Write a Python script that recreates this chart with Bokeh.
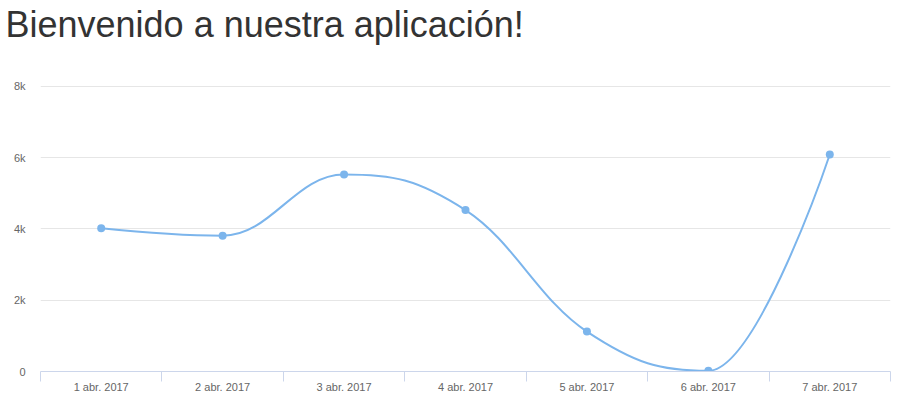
from bokeh.plotting import figure
from bokeh.models import ColumnDataSource, Range1d, FixedTicker, Title
from bokeh.embed import file_html
from bokeh.resources import INLINE

# ---- data ----
categories = ["1 abr. 2017", "2 abr. 2017", "3 abr. 2017", "4 abr. 2017",
              "5 abr. 2017", "6 abr. 2017", "7 abr. 2017"]
values = [4020, 3810, 5530, 4530, 1120, 20, 6090]
y_ticks = [0, 2000, 4000, 6000, 8000]
y_tick_labels = ["0", "2k", "4k", "6k", "8k"]
title_text = "Bienvenido a nuestra aplicación!"

LINE = "#7cb5ec"
FONT = "Liberation Sans"

xs = [i + 0.5 for i in range(len(categories))]


def spline_controls(px_list, py_list, smoothing=1.5):
    n = len(px_list)
    left = [(px_list[i], py_list[i]) for i in range(n)]
    right = [(px_list[i], py_list[i]) for i in range(n)]
    denom = smoothing + 1
    for i in range(1, n - 1):
        px, py = px_list[i], py_list[i]
        lx, ly = px_list[i - 1], py_list[i - 1]
        nx, ny = px_list[i + 1], py_list[i + 1]
        lcx = (smoothing * px + lx) / denom
        lcy = (smoothing * py + ly) / denom
        rcx = (smoothing * px + nx) / denom
        rcy = (smoothing * py + ny) / denom
        if rcx != lcx:
            corr = (rcy - lcy) * (rcx - px) / (rcx - lcx) + py - rcy
            lcy += corr
            rcy += corr
        if lcy > ly and lcy > py:
            lcy = max(ly, py)
            rcy = 2 * py - lcy
        elif lcy < ly and lcy < py:
            lcy = min(ly, py)
            rcy = 2 * py - lcy
        if rcy > ny and rcy > py:
            rcy = max(ny, py)
            lcy = 2 * py - rcy
        elif rcy < ny and rcy < py:
            rcy = min(ny, py)
            lcy = 2 * py - rcy
        left[i] = (lcx, lcy)
        right[i] = (rcx, rcy)
    return left, right


left, right = spline_controls(xs, values)
n = len(xs)
seg = dict(
    x0=xs[:-1], y0=values[:-1], x1=xs[1:], y1=values[1:],
    cx0=[right[i][0] for i in range(n - 1)],
    cy0=[right[i][1] for i in range(n - 1)],
    cx1=[left[i + 1][0] for i in range(n - 1)],
    cy1=[left[i + 1][1] for i in range(n - 1)],
)

p = figure(width=900, height=400, output_backend="svg", toolbar_location=None,
           x_range=Range1d(0, len(categories)), y_range=Range1d(0, 8028),
           min_border_left=40, min_border_right=10, min_border_bottom=29,
           min_border_top=85)
p.title.text = ""
p.outline_line_color = None
p.background_fill_color = "white"
p.border_fill_color = "white"

# spacer between frame and title, then the title itself
p.add_layout(Title(text=" ", text_font=FONT, text_font_size="10px",
                   standoff=22), "above")
p.add_layout(Title(text=title_text, text_font=FONT, text_font_size="36px",
                   text_font_style="normal", text_color="#333333",
                   align="left", vertical_align="top", offset=-35,
                   standoff=7), "above")

# spline line and markers
p.bezier(x0="x0", y0="y0", x1="x1", y1="y1", cx0="cx0", cy0="cy0",
         cx1="cx1", cy1="cy1", source=ColumnDataSource(seg),
         line_color=LINE, line_width=2)
p.scatter(xs, values, size=8, fill_color=LINE, line_color=None)

# x axis
xax = p.xaxis[0]
xax.ticker = FixedTicker(ticks=xs, minor_ticks=list(range(len(categories) + 1)))
xax.major_label_overrides = {x: c for x, c in zip(xs, categories)}
xax.major_tick_line_color = None
xax.major_tick_out = 0
xax.major_tick_in = 0
xax.minor_tick_line_color = "#ccd6eb"
xax.minor_tick_out = 10
xax.minor_tick_in = 0
xax.axis_line_color = "#ccd6eb"
xax.major_label_text_font = FONT
xax.major_label_text_font_size = "11px"
xax.major_label_text_color = "#666666"
xax.major_label_standoff = -1

# y axis
yax = p.yaxis[0]
yax.ticker = FixedTicker(ticks=y_ticks, minor_ticks=[])
yax.major_label_overrides = {t: l for t, l in zip(y_ticks, y_tick_labels)}
yax.axis_line_color = None
yax.major_tick_line_color = None
yax.minor_tick_line_color = None
yax.major_tick_out = 0
yax.major_tick_in = 0
yax.major_label_text_font = FONT
yax.major_label_text_font_size = "11px"
yax.major_label_text_color = "#666666"
yax.major_label_standoff = 15

p.xgrid.grid_line_color = None
p.ygrid.grid_line_color = "#e6e6e6"
p.ygrid.ticker = FixedTicker(ticks=y_ticks)

open("out.html", "w").write(file_html(p, INLINE))
